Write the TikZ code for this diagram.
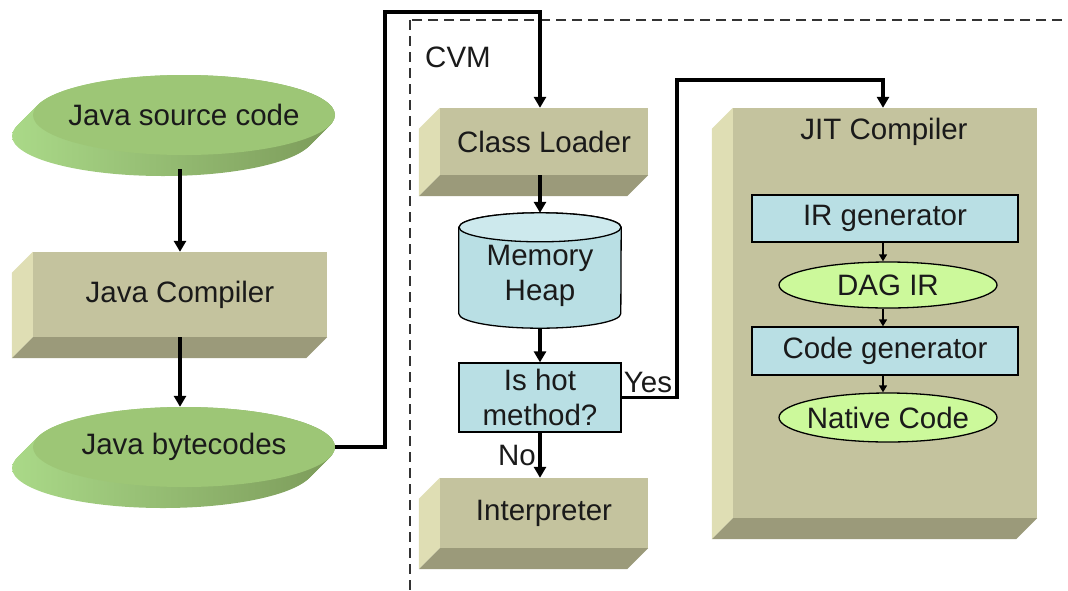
\documentclass[tikz,border=0pt]{standalone}
\usepackage{fontspec}
\setmainfont{Liberation Sans}
\usetikzlibrary{arrows.meta,shapes.geometric}
\definecolor{olivefront}{HTML}{C4C39E}
\definecolor{oliveleft}{HTML}{DFDEB4}
\definecolor{olivebottom}{HTML}{9B9A7A}
\definecolor{disctop}{HTML}{9DC676}
\definecolor{discsideL}{HTML}{AAD988}
\definecolor{discsideR}{HTML}{7F9F5D}
\definecolor{lightblue}{HTML}{B9DFE4}
\definecolor{lightbluetop}{HTML}{CDE9ED}
\definecolor{lightgreen}{HTML}{CCF99B}
\definecolor{txt}{HTML}{1A1A1A}
\newcommand\extrudebox[1]{%
  \fill[oliveleft] (#1.north west) -- ++(-21,21) -- ([shift={(-21,21)}]#1.south west) -- (#1.south west) -- cycle;
  \fill[olivebottom] (#1.south west) -- (#1.south east) -- ([shift={(-21,21)}]#1.south east) -- ([shift={(-21,21)}]#1.south west) -- cycle;}
\newcommand\discside[1]{%
  \foreach \i in {0,1,...,21}{\shade[left color=discsideL,right color=discsideR] ([shift={(-\i,\i)}]#1) ellipse [x radius=151pt,y radius=40pt];}}
\tikzset{
  every node/.style={font=\fontsize{29.5}{35}\selectfont, text=txt},
  olivebox/.style={fill=olivefront, inner sep=0pt},
  disc/.style={ellipse, fill=disctop, minimum width=302pt, minimum height=80pt, inner xsep=-40pt, inner ysep=0pt},
  bluebox/.style={draw=black, line width=1.3pt, fill=lightblue, inner sep=0pt, align=center},
  greenell/.style={ellipse, draw=black, line width=1.3pt, fill=lightgreen, inner xsep=-20pt, inner ysep=0pt},
  conn/.style={line width=3.2pt, -{Triangle[length=11pt,width=12pt]}},
  thinconn/.style={line width=1.3pt, -{Triangle[length=7pt,width=8pt]}},
  lbl/.style={inner sep=0pt}
}
\begin{document}
\begin{tikzpicture}[x=1pt,y=-1pt]
\clip (0,0) rectangle (1068,590);
\useasboundingbox (0,0) rectangle (1068,590);
% CVM region
\draw[dashed, line width=1.2pt, dash pattern=on 10pt off 6pt, draw=black!80] (410,20) rectangle (1090,610);
\node[lbl] (cvm) at (458,57) {CVM};
% Java source code disc
\coordinate (srcc) at (184,115);
\discside{srcc}
\node[disc] (src) at (srcc) {Java source code};
% Java compiler box
\node[olivebox, minimum width=294pt, minimum height=85pt] (comp) at (180,294.5) {Java Compiler};
\extrudebox{comp}
% Java bytecodes disc
\coordinate (bcc) at (184,447);
\discside{bcc}
\node[disc] (bc) at (bcc) {Java bytecodes};
% Class loader
\node[olivebox, minimum width=208pt, minimum height=67pt] (cl) at (544,141.5) {Class Loader};
\extrudebox{cl}
% Memory heap cylinder
\node[minimum width=162pt, minimum height=115pt, inner sep=0pt] (heap) at (540,270.5) {};
\draw[fill=lightblue, line width=1.3pt] ([yshift=-14.5pt]heap.north west) -- ([yshift=14.5pt]heap.south west) arc[start angle=180, end angle=360, x radius=81pt, y radius=14.5pt] -- ([yshift=-14.5pt]heap.north east) arc[start angle=0, end angle=180, x radius=81pt, y radius=14.5pt] -- cycle;
\draw[fill=lightbluetop, line width=1.3pt] ([yshift=-14.5pt]heap.north) ellipse [x radius=81pt, y radius=14.5pt];
\node[align=center, inner sep=0pt] (heaptxt) at (540,276) {Memory\\Heap};
% Is hot method
\node[bluebox, minimum width=162pt, minimum height=69pt] (hot) at (540,397.5) {Is hot\\method?};
% Interpreter
\node[olivebox, minimum width=208pt, minimum height=70pt] (interp) at (544,513) {Interpreter};
\extrudebox{interp}
% JIT compiler
\node[olivebox, minimum width=304pt, minimum height=410pt] (jit) at (885,313) {};
\extrudebox{jit}
\node[lbl] (jitlbl) at (884,132) {JIT Compiler};
\node[bluebox, minimum width=266pt, minimum height=47pt] (irg) at (885,218.5) {IR generator};
\node[greenell, minimum width=218pt, minimum height=46pt] (dag) at (888,285) {DAG IR};
\node[bluebox, minimum width=266pt, minimum height=48pt] (cg) at (885,351) {Code generator};
\node[greenell, minimum width=218pt, minimum height=49pt] (nat) at (888,417.5) {Native Code};
\coordinate (ax) at (883,0);
% connectors
\draw[conn] ([yshift=-14pt]src.south -| comp.north) -- (comp.north);
\draw[conn] (comp.south) -- (bc.north -| comp.south);
\coordinate (t1) at (385,12);
\draw[conn] (bc.east) -| (t1) -| (cl.north -| heap.north);
\draw[conn] (cl.south -| heap.north) -- (heap.north);
\draw[conn] (heap.south) -- (hot.north);
\draw[conn] (hot.south) -- (interp.north -| hot.south);
\coordinate (t2) at (677,80);
\draw[conn] (hot.east) -| (t2) -| (jit.north -| ax);
\draw[thinconn] (irg.south -| ax) -- (dag.north -| ax);
\draw[thinconn] (dag.south -| ax) -- (cg.north -| ax);
\draw[thinconn] (cg.south -| ax) -- (nat.north -| ax);
\node[lbl] (yes) at (648,382) {Yes};
\node[lbl] (no) at (517,455) {No};
\end{tikzpicture}
\end{document}
